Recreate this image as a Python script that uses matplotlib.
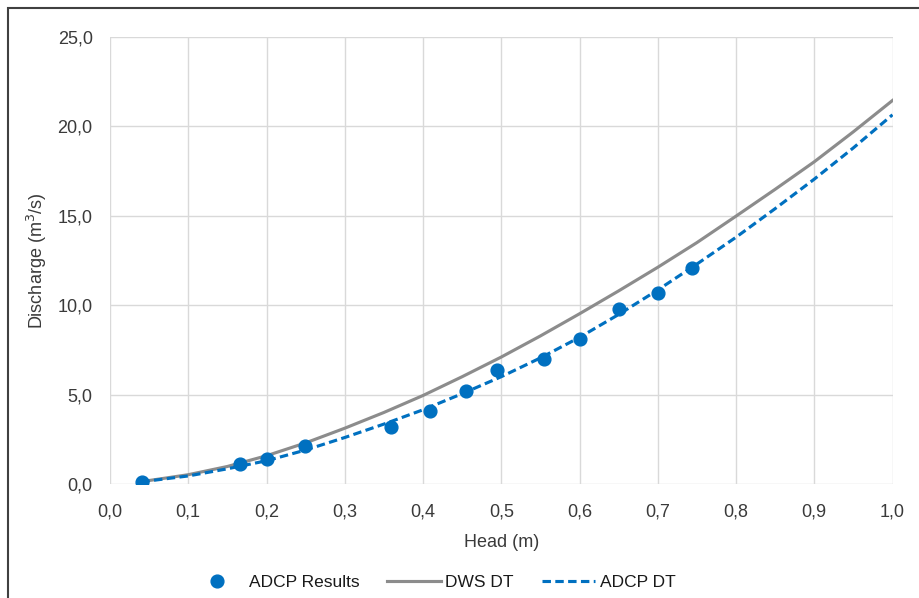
import matplotlib.pyplot as plt
from matplotlib.lines import Line2D
from matplotlib.patches import Rectangle
from matplotlib.ticker import FuncFormatter

plt.rcParams['font.family'] = ['Liberation Sans', 'DejaVu Sans']

# measured head / discharge pairs
head_adcp = [0.041, 0.166, 0.200, 0.249, 0.359, 0.409, 0.455, 0.494, 0.554, 0.600, 0.651, 0.700, 0.744]
q_adcp = [0.10, 1.10, 1.40, 2.10, 3.20, 4.10, 5.20, 6.40, 7.00, 8.10, 9.80, 10.70, 12.10]

# discharge tables
head_dt = [0.04, 0.10, 0.15, 0.20, 0.25, 0.30, 0.35, 0.40, 0.45, 0.50,
           0.55, 0.60, 0.65, 0.70, 0.75, 0.80, 0.85, 0.90, 0.95, 1.00]
q_dws_dt = [0.13, 0.52, 0.98, 1.58, 2.30, 3.12, 4.00, 4.95, 6.00, 7.10,
            8.28, 9.52, 10.80, 12.12, 13.50, 14.98, 16.48, 18.02, 19.70, 21.45]
q_adcp_dt = [0.12, 0.45, 0.85, 1.30, 1.90, 2.60, 3.35, 4.15, 5.05, 6.00,
             7.05, 8.20, 9.48, 10.85, 12.30, 13.80, 15.40, 17.05, 18.80, 20.65]

blue = '#0070c0'
grey = '#8c8c8c'
text_col = '#3a3a3a'

fig = plt.figure(figsize=(9.19, 5.98), dpi=100)
ax = fig.add_axes([110 / 919, 1 - 484 / 598, 782.5 / 919, 447 / 598])

ax.plot(head_dt, q_dws_dt, color=grey, lw=2.25, solid_joinstyle='round', zorder=3)
ax.plot(head_dt, q_adcp_dt, color=blue, lw=2.25, linestyle=(0, (2.7, 1.4)), zorder=4)
ax.plot(head_adcp, q_adcp, 'o', color=blue, ms=9.2, mec=blue, zorder=5)

ax.set_xlim(0, 1.0)
ax.set_ylim(0, 25)
ax.set_xticks([i / 10 for i in range(11)])
ax.set_yticks([0, 5, 10, 15, 20, 25])
comma = FuncFormatter(lambda v, p: f'{v:.1f}'.replace('.', ','))
ax.xaxis.set_major_formatter(comma)
ax.yaxis.set_major_formatter(comma)
ax.tick_params(length=0, labelsize=13, labelcolor=text_col)
ax.tick_params(axis='x', pad=14)
ax.tick_params(axis='y', pad=12.5)
ax.grid(True, color='#d9d9d9', lw=1.0)
ax.set_axisbelow(True)
for s in ax.spines.values():
    s.set_visible(False)

ax.set_xlabel('Head (m)', fontsize=13, color=text_col, labelpad=10)
ax.set_ylabel('Discharge (m$^3$/s)', fontsize=13, color=text_col, labelpad=6)

handles = [
    Line2D([], [], marker='o', ls='none', color=blue, ms=9.2),
    Line2D([], [], color=grey, lw=2.25),
    Line2D([], [], color=blue, lw=2.25, linestyle=(0, (2.7, 1.4))),
]
fig.legend(handles, ['ADCP Results', 'DWS DT', 'ADCP DT'], loc='center',
           bbox_to_anchor=(433 / 919, 1 - 582 / 598), ncol=3, frameon=False,
           fontsize=12.5, handlelength=3.1, handletextpad=0.25, columnspacing=1.6,
           labelcolor='#1a1a1a')

# chart frame
fig.patches.append(Rectangle((8 / 919, -0.1), 1.2, 1.1 - 8 / 598, transform=fig.transFigure,
                             fill=False, edgecolor='#404040', lw=1.5))

fig.savefig('out.png', dpi=100)
